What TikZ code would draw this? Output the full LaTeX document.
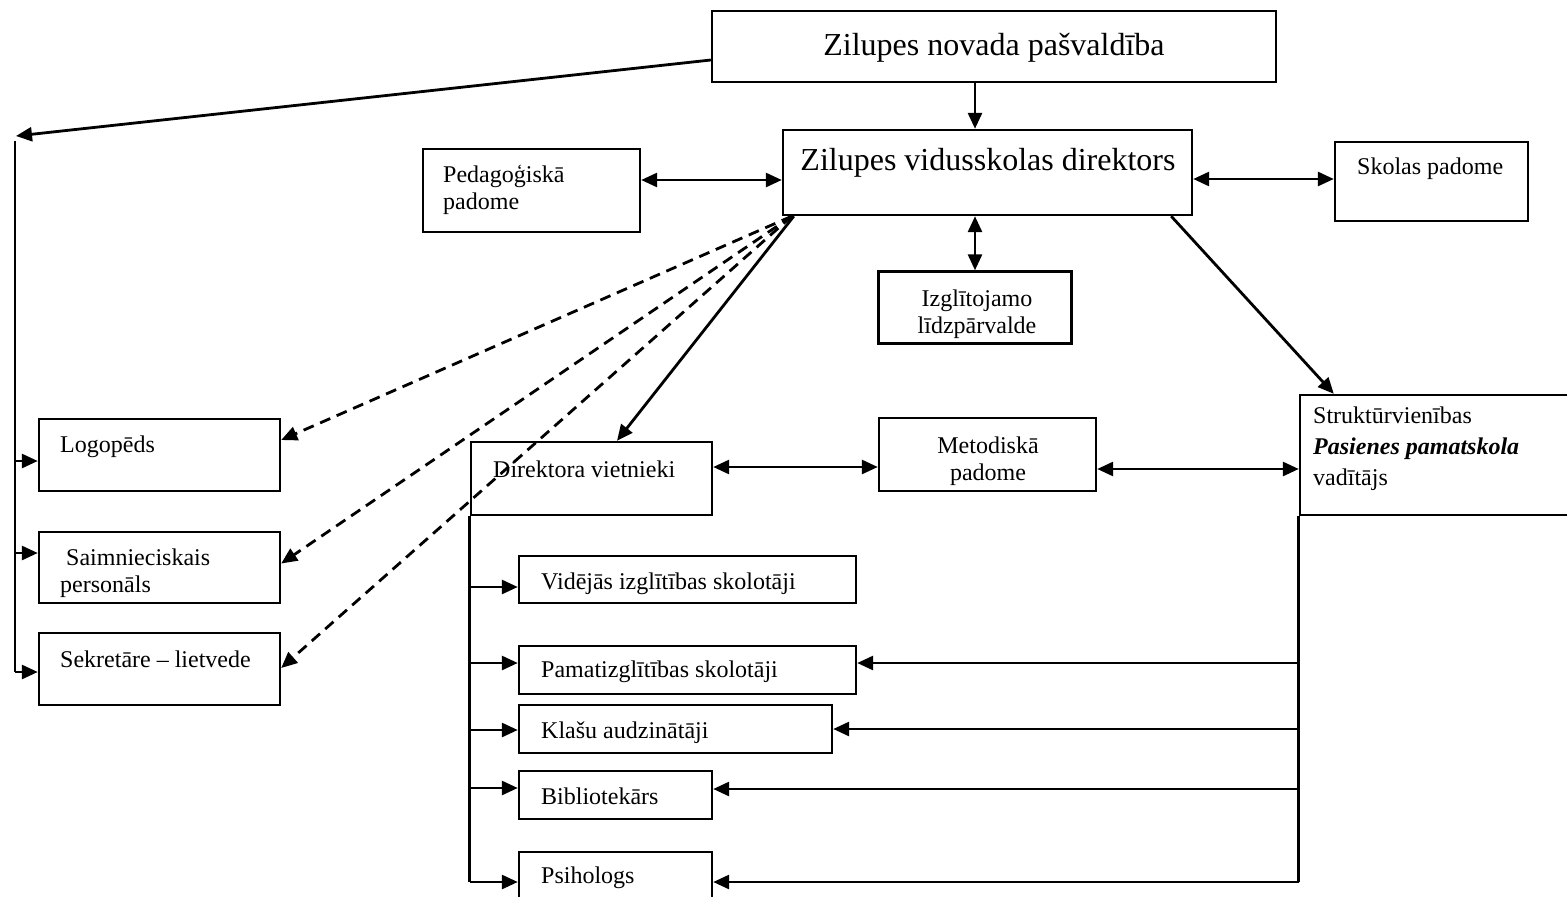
\documentclass[tikz,border=0pt]{standalone}
\usepackage{fontspec}
\setmainfont{Liberation Serif}
\usetikzlibrary{arrows.meta}

\newcommand\lielais{\fontsize{32}{38}\selectfont}
\newcommand\mazais{\fontsize{24}{27}\selectfont}
\newcommand\mazaisret{\fontsize{24}{31}\selectfont}

\begin{document}
\begin{tikzpicture}[x=1pt, y=-1pt,
    kaste/.style={draw, rectangle, line width=2.4pt, inner sep=0pt},
    teksts/.style={inner sep=0pt, anchor=base west, align=left, font=\mazais},
    bulta/.style={-{Triangle[length=16pt,width=14pt]}, line width=2.8pt},
    divbulta/.style={{Triangle[length=16pt,width=14pt]}-{Triangle[length=16pt,width=14pt]}, line width=2.8pt},
    svitra/.style={bulta, dash pattern=on 11pt off 7pt},
    linija/.style={line width=2.8pt}]
    \useasboundingbox (0,0) rectangle (1567,897);
    \clip (0,0) rectangle (1567,897);
    % Kastes
    \node[kaste, minimum width=564pt, minimum height=71pt] (pasv) at (994,46.5) {};
    \node[kaste, minimum width=409pt, minimum height=85pt] (dir) at (987.5,172.5) {};
    \node[kaste, minimum width=217pt, minimum height=83pt] (ped) at (531.5,190.5) {};
    \node[kaste, minimum width=193pt, minimum height=79pt] (skp) at (1431.5,181.5) {};
    \node[kaste, minimum width=193pt, minimum height=72pt] (izgl) at (975,307.5) {};
    \node[kaste, minimum width=241pt, minimum height=72pt] (logo) at (159.5,455) {};
    \node[kaste, minimum width=241pt, minimum height=71pt] (saim) at (159.5,567.5) {};
    \node[kaste, minimum width=241pt, minimum height=72pt] (sekr) at (159.5,669) {};
    \node[kaste, minimum width=241pt, minimum height=73pt] (vietn) at (591.5,478.5) {};
    \node[kaste, minimum width=217pt, minimum height=73pt] (metod) at (987.5,454.5) {};
    \node[kaste, minimum width=320pt, minimum height=120pt] (strukt) at (1460,455) {};
    \node[kaste, minimum width=337pt, minimum height=47pt] (vid) at (687.5,579.5) {};
    \node[kaste, minimum width=337pt, minimum height=48pt] (pamat) at (687.5,670) {};
    \node[kaste, minimum width=313pt, minimum height=48pt] (klasu) at (675.5,729) {};
    \node[kaste, minimum width=193pt, minimum height=48pt] (bibl) at (615.5,795) {};
    \node[kaste, minimum width=193pt, minimum height=80pt] (psih) at (615.5,892) {};
    % Teksti (vairākrindu tekstiem bāzes līnija ir pēdējā rinda)
    \node[teksts, anchor=base, font=\lielais] (pasv-t) at (994,55) {Zilupes novada pašvaldība};
    \node[teksts, anchor=base, font=\lielais] (dir-t) at (988,170) {Zilupes vidusskolas direktors};
    \node[teksts] (ped-t) at (443,209) {Pedagoģiskā\\padome};
    \node[teksts] (skp-t) at (1357,174) {Skolas padome};
    \node[teksts, anchor=base, align=center] (izgl-t) at (977,333) {Izglītojamo\\līdzpārvalde};
    \node[teksts] (logo-t) at (60,452) {Logopēds};
    \node[teksts] (saim-t) at (60,592) {\hspace*{6pt}Saimnieciskais\\personāls};
    \node[teksts] (sekr-t) at (60,667) {Sekretāre – lietvede};
    \node[teksts] (vietn-t) at (493,477) {Direktora vietnieki};
    \node[teksts, anchor=base, align=center] (metod-t) at (988,480) {Metodiskā\\padome};
    \node[teksts, font=\mazaisret] (strukt-t) at (1313,485) {Struktūrvienības\\\textbf{\textit{Pasienes pamatskola}}\\vadītājs};
    \node[teksts] (vid-t) at (541,589) {Vidējās izglītības skolotāji};
    \node[teksts] (pamat-t) at (541,677) {Pamatizglītības skolotāji};
    \node[teksts] (klasu-t) at (541,738) {Klašu audzinātāji};
    \node[teksts] (bibl-t) at (541,804) {Bibliotekārs};
    \node[teksts] (psih-t) at (541,883) {Psihologs};
    % Palīgpunkti
    \coordinate (kr1) at (16,136);
    \coordinate (kr2) at (15,141);
    \coordinate (kr3) at (15,672);
    \coordinate (ds) at ([xshift=10pt]dir.south west);
    % Savienojumi
    \draw[bulta] (pasv.south -| izgl) -- (dir.north -| izgl);
    \draw[bulta] ([yshift=-13.5pt]pasv.west) -- (kr1);
    \draw[linija] (kr2) -- (kr3);
    \draw[bulta] (kr2 |- 0,461) -- (logo.west |- 0,461);
    \draw[bulta] (kr2 |- 0,553) -- (saim.west |- 0,553);
    \draw[bulta] (kr3) -- (sekr.west |- kr3);
    \draw[divbulta] (ped.east |- 0,180) -- (dir.west |- 0,180);
    \draw[divbulta] (dir.east |- 0,179) -- (skp.west |- 0,179);
    \draw[divbulta] (dir.south -| izgl) -- (izgl.north);
    \draw[svitra] (ds) -- ([yshift=15pt]logo.east);
    \draw[svitra] (ds) -- ([yshift=4pt]saim.east);
    \draw[svitra] (ds) -- ([yshift=1pt]sekr.east);
    \draw[bulta] ([xshift=12pt]dir.south west) -- ([xshift=25.5pt]vietn.north);
    \draw[bulta] ([xshift=-22pt]dir.south east) -- ([xshift=35pt]strukt.north west);
    \draw[divbulta] (vietn.east |- 0,467) -- (metod.west |- 0,467);
    \draw[divbulta] (metod.east |- 0,469) -- (strukt.west |- 0,469);
    % Vietnieku atzars
    \draw[linija] (vietn.south west) -- (vietn.south west |- 0,882);
    \draw[bulta] (vietn.south west |- 0,587) -- (vid.west |- 0,587);
    \draw[bulta] (vietn.south west |- 0,663) -- (pamat.west |- 0,663);
    \draw[bulta] (vietn.south west |- 0,730) -- (klasu.west |- 0,730);
    \draw[bulta] (vietn.south west |- 0,788) -- (bibl.west |- 0,788);
    \draw[bulta] (vietn.south west |- 0,882) -- (psih.west |- 0,882);
    % Struktūrvienības atzars
    \draw[linija] (strukt.south west) -- (strukt.south west |- 0,882);
    \draw[bulta] (strukt.south west |- 0,663) -- (pamat.east |- 0,663);
    \draw[bulta] (strukt.south west |- 0,729) -- (klasu.east |- 0,729);
    \draw[bulta] (strukt.south west |- 0,789) -- (bibl.east |- 0,789);
    \draw[bulta] (strukt.south west |- 0,882) -- (psih.east |- 0,882);
\end{tikzpicture}
\end{document}
